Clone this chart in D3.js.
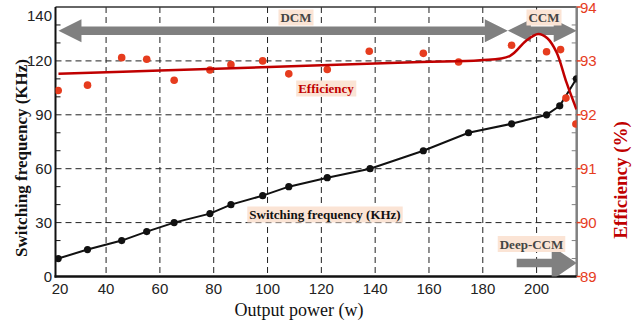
<!DOCTYPE html>
<html>
<head>
<meta charset="utf-8">
<script src="https://cdn.jsdelivr.net/npm/d3@7"></script>
<style>
  body { margin: 0; background: #fff; }
  svg { display: block; }
</style>
</head>
<body>
<svg id="chart"></svg>
<script>
// output power (W) where the measurements were taken
var power = [22.2, 33.1, 45.8, 55.1, 65.3, 78.6, 86.4, 98.2, 107.9, 122.2, 138.1, 157.9, 174.7, 190.7, 203.7, 208.6, 214.8];
// switching frequency (KHz)
var freq = [10, 15, 20, 25, 30, 35, 40, 45, 50, 55, 60, 70, 80, 85, 90, 95, 110];

// measured efficiency points (%)
var effPower = [22.2, 33.1, 45.8, 55.1, 65.3, 78.6, 86.4, 98.2, 107.9, 122.2, 137.8, 157.9, 171, 190.7, 203.7, 208.9, 210.9, 214.6];
var effValue = [92.45, 92.55, 93.06, 93.03, 92.64, 92.83, 92.93, 93.0, 92.76, 92.84, 93.18, 93.14, 92.98, 93.29, 93.17, 93.21, 92.31, 91.83];

// fitted efficiency curve
var fitPower = [22.3, 60, 120, 157, 179, 190, 196, 200.6, 204, 207.4, 211.1, 214.8];
var fitValue = [92.76, 92.82, 92.92, 92.98, 93.01, 93.09, 93.37, 93.5, 93.42, 93.16, 92.6, 92.1];

// tick labels
var xTicks = [40, 60, 80, 100, 120, 140, 160, 180, 200];
var xLabels = ["20", "40", "60", "80", "100", "120", "140", "160", "180", "200"];
var xLabelPos = [22.9, 40, 60, 80, 100, 120, 140, 160, 180, 200];
var yLeftTicks = [0, 30, 60, 90, 120];
var yLeftLabels = ["0", "30", "60", "90", "120", "140"];
var yLeftLabelPos = [0, 30, 60, 90, 120, 145.5];
var yMinor = [10, 20, 40, 50, 70, 80, 100, 110, 130, 140];
var yRightTicks = [89, 90, 91, 92, 93, 94];

// operating mode regions (power range, height on left axis)
var modes = [
  { name: "DCM", from: 22.3, to: 189.3, level: 136.8, heads: "both" },
  { name: "CCM", from: 189.3, to: 214.9, level: 136.8, heads: "both" },
  { name: "Deep-CCM", from: 192.6, to: 214.9, level: 7.5, heads: "right" }
];

var W = 642, H = 326;
var L = 55.5, R = 576.7, T = 7, B = 276.5;

var svg = d3.select("#chart").attr("width", W).attr("height", H);

var x = d3.scaleLinear().domain([21.2, 214.9]).range([L, R]);
var yL = d3.scaleLinear().domain([0, 150]).range([B, T]);
var yR = d3.scaleLinear().domain([89, 94]).range([B, T]);

var serif = "'Liberation Serif', 'Times New Roman', serif";
var sans = "'Liberation Sans', Arial, sans-serif";
var red = "#c00000", orange = "#e63c1e", grey = "#808080";

svg.append("defs").append("clipPath").attr("id", "clip")
  .append("rect").attr("x", L).attr("y", T).attr("width", R - L).attr("height", B - T);

// grid
var grid = svg.append("g").attr("stroke", "#222").attr("stroke-width", 1).attr("stroke-dasharray", "6,4");
grid.selectAll(".vg").data(xTicks).enter().append("line")
  .attr("x1", function(d) { return x(d); }).attr("x2", function(d) { return x(d); })
  .attr("y1", T).attr("y2", B);
grid.selectAll(".hg").data(yLeftTicks.slice(1)).enter().append("line")
  .attr("x1", L).attr("x2", R)
  .attr("y1", function(d) { return yL(d); }).attr("y2", function(d) { return yL(d); });

// minor ticks, inside on both sides
svg.append("g").selectAll("line").data(yMinor).enter().append("line")
  .attr("x1", L).attr("x2", L + 5)
  .attr("y1", function(d) { return yL(d); }).attr("y2", function(d) { return yL(d); })
  .attr("stroke", "#111").attr("stroke-width", 1);
svg.append("g").selectAll("line").data(yMinor).enter().append("line")
  .attr("x1", R - 5).attr("x2", R)
  .attr("y1", function(d) { return yL(d); }).attr("y2", function(d) { return yL(d); })
  .attr("stroke", grey).attr("stroke-width", 1);

// frame
svg.append("line").attr("x1", L).attr("x2", R).attr("y1", T).attr("y2", T).attr("stroke", "#333").attr("stroke-width", 1.5);
svg.append("line").attr("x1", R).attr("x2", R).attr("y1", T).attr("y2", B).attr("stroke", grey).attr("stroke-width", 2.5);
svg.append("line").attr("x1", L).attr("x2", L).attr("y1", T).attr("y2", B + 1).attr("stroke", "#111").attr("stroke-width", 2);
svg.append("line").attr("x1", L - 1).attr("x2", R).attr("y1", B).attr("y2", B).attr("stroke", "#111").attr("stroke-width", 2.5);

// right major ticks (red, outside)
svg.append("g").selectAll("line").data(yRightTicks).enter().append("line")
  .attr("x1", R).attr("x2", R + 4)
  .attr("y1", function(d) { return yR(d); }).attr("y2", function(d) { return yR(d); })
  .attr("stroke", orange).attr("stroke-width", 1.5);

// tick labels
svg.append("g").selectAll("text").data(xLabels).enter().append("text")
  .attr("x", function(d, i) { return x(xLabelPos[i]); })
  .attr("y", 294)
  .attr("text-anchor", "middle")
  .attr("font-family", sans).attr("font-size", 15).attr("fill", "#222")
  .text(function(d) { return d; });
svg.append("g").selectAll("text").data(yLeftLabels).enter().append("text")
  .attr("x", 52)
  .attr("y", function(d, i) { return yL(yLeftLabelPos[i]) + 5.5; })
  .attr("text-anchor", "end")
  .attr("font-family", sans).attr("font-size", 15).attr("fill", "#222")
  .text(function(d) { return d; });
svg.append("g").selectAll("text").data(yRightTicks).enter().append("text")
  .attr("x", 580)
  .attr("y", function(d) { return yR(d) + 5.5; })
  .attr("font-family", sans).attr("font-size", 15).attr("fill", orange)
  .text(function(d) { return d; });

// axis titles
svg.append("text")
  .attr("transform", "translate(27,158) rotate(-90)")
  .attr("text-anchor", "middle")
  .attr("font-family", serif).attr("font-weight", "bold").attr("font-size", 17).attr("fill", "#111")
  .text("Switching frequency (KHz)");
svg.append("text")
  .attr("transform", "translate(627,180) rotate(-90)")
  .attr("text-anchor", "middle")
  .attr("font-family", serif).attr("font-weight", "bold").attr("font-size", 19).attr("fill", red)
  .text("Efficiency (%)");
svg.append("text")
  .attr("x", 299).attr("y", 316)
  .attr("text-anchor", "middle")
  .attr("font-family", serif).attr("font-size", 18).attr("fill", "#111")
  .text("Output power (w)");

// mode arrows
var plot = svg.append("g").attr("clip-path", "url(#clip)");
modes.forEach(function(m) {
  var x0 = x(m.from), x1 = x(m.to), cy = yL(m.level);
  var sh = 4.2, hl = m.heads == "right" ? 25 : 23, hh = m.heads == "right" ? 17 : 11.5;
  var pts = [];
  if (m.heads == "both") {
    pts = [[x0, cy], [x0 + hl, cy - hh], [x0 + hl, cy - sh], [x1 - hl, cy - sh], [x1 - hl, cy - hh], [x1, cy],
           [x1 - hl, cy + hh], [x1 - hl, cy + sh], [x0 + hl, cy + sh], [x0 + hl, cy + hh]];
  } else {
    pts = [[x0, cy - sh], [x1 - hl, cy - sh], [x1 - hl, cy - hh], [x1, cy], [x1 - hl, cy + hh], [x1 - hl, cy + sh], [x0, cy + sh]];
  }
  plot.append("path").attr("d", "M" + pts.join("L") + "Z").attr("fill", grey);
});

// switching frequency line
var freqData = power.map(function(p, i) { return { p: p, v: freq[i] }; });
plot.append("path").datum(freqData)
  .attr("fill", "none").attr("stroke", "#111").attr("stroke-width", 2)
  .attr("d", d3.line().x(function(d) { return x(d.p); }).y(function(d) { return yL(d.v); }));
plot.selectAll(".fdot").data(freqData).enter().append("circle")
  .attr("cx", function(d) { return x(d.p); }).attr("cy", function(d) { return yL(d.v); })
  .attr("r", 3.6).attr("fill", "#111");

// efficiency points and fitted curve
var effData = effPower.map(function(p, i) { return { p: p, v: effValue[i] }; });
var fitData = fitPower.map(function(p, i) { return { p: p, v: fitValue[i] }; });
plot.selectAll(".edot").data(effData).enter().append("circle")
  .attr("cx", function(d) { return x(d.p); }).attr("cy", function(d) { return yR(d.v); })
  .attr("r", 3.8).attr("fill", orange);
plot.append("path").datum(fitData)
  .attr("fill", "none").attr("stroke", red).attr("stroke-width", 2.5)
  .attr("d", d3.line().curve(d3.curveCatmullRom.alpha(0.5))
    .x(function(d) { return x(d.p); }).y(function(d) { return yR(d.v); }));

// labels with peach boxes
function tag(px, py, txt, color) {
  var g = svg.append("g");
  var t = g.append("text").attr("x", px).attr("y", py).attr("text-anchor", "middle")
    .attr("font-family", serif).attr("font-weight", "bold").attr("font-size", 13).attr("fill", color)
    .text(txt);
  var b = t.node().getBBox();
  g.insert("rect", "text").attr("x", b.x - 2).attr("y", b.y - 0.5).attr("width", b.width + 4).attr("height", b.height + 1)
    .attr("fill", "#fbe4d5");
}
tag(296, 22, "DCM", "#444");
tag(544, 22, "CCM", "#444");
tag(326, 93, "Efficiency", red);
tag(325, 219, "Switching frequency (KHz)", "#111");
tag(531.5, 248.5, "Deep-CCM", "#444");
</script>
</body>
</html>
